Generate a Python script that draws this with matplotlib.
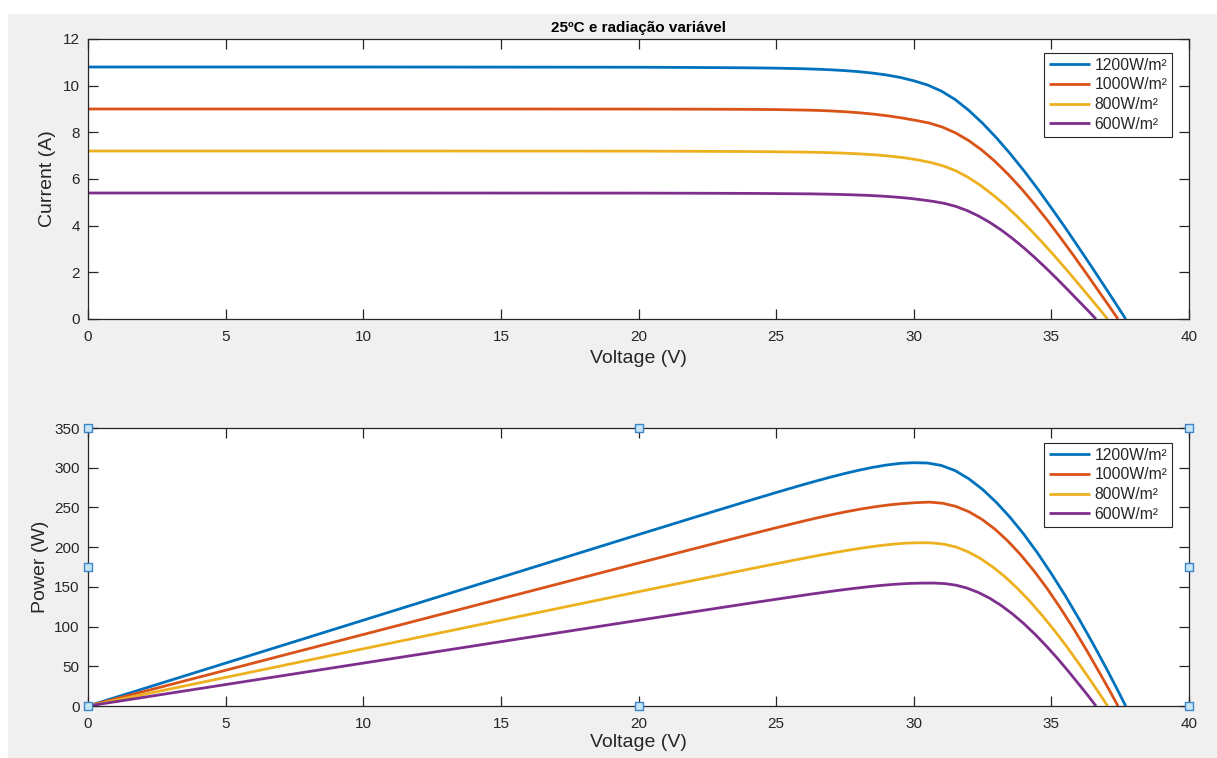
import numpy as np
import matplotlib
matplotlib.use("Agg")
import matplotlib.pyplot as plt
from matplotlib.patches import Rectangle

plt.rcParams['font.family'] = ['Liberation Sans', 'DejaVu Sans']

title = "25ºC e radiação variável"
labels = ["1200W/m²", "1000W/m²", "800W/m²", "600W/m²"]
colors = ["#0072BD", "#D95319", "#EDB120", "#7E2F8E"]

# I-V curves (voltage in V, current in A)
v_1200 = [0, 5, 10, 15, 20, 22, 24, 25, 26, 26.5, 27, 27.5, 28, 28.5, 29, 29.5, 30, 30.5, 31,
          31.5, 32, 32.5, 33, 33.5, 34, 34.5, 35, 35.5, 36, 36.5, 37, 37.35, 37.70]
i_1200 = [10.80, 10.80, 10.80, 10.795, 10.79, 10.78, 10.765, 10.75, 10.725, 10.705, 10.68,
          10.645, 10.60, 10.54, 10.46, 10.355, 10.21, 10.03, 9.77, 9.41, 8.94, 8.39, 7.77,
          7.09, 6.36, 5.58, 4.76, 3.92, 3.05, 2.17, 1.275, 0.64, 0.0]

v_1000 = [0, 5, 10, 15, 20, 22, 24, 25, 26.09, 26.59, 27.09, 27.59, 28.09, 28.60, 29.10, 29.60,
          30.10, 30.575, 31.051, 31.526, 32.001, 32.477, 32.952, 33.427, 33.902, 34.378,
          34.854, 35.328, 35.804, 36.279, 36.754, 37.087, 37.42]
i_1000 = [9.00, 9.00, 9.00, 9.00, 8.997, 8.993, 8.985, 8.975, 8.953, 8.936, 8.911, 8.876,
          8.831, 8.772, 8.700, 8.610, 8.507, 8.395, 8.221, 7.972, 7.644, 7.237, 6.755,
          6.205, 5.597, 4.935, 4.232, 3.491, 2.724, 1.936, 1.132, 0.571, 0.0]

v_800 = [0, 5, 10, 15, 20, 22, 24, 25, 26.17, 26.68, 27.18, 27.68, 28.19, 28.69, 29.19, 29.70,
         30.20, 30.644, 31.088, 31.532, 31.977, 32.421, 32.865, 33.309, 33.753, 34.197,
         34.642, 35.086, 35.530, 35.974, 36.418, 36.729, 37.04]
i_800 = [7.20, 7.20, 7.20, 7.197, 7.194, 7.187, 7.177, 7.167, 7.150, 7.137, 7.120, 7.097,
         7.067, 7.027, 6.973, 6.903, 6.807, 6.70, 6.555, 6.35, 6.07, 5.73, 5.33, 4.89, 4.40,
         3.88, 3.32, 2.74, 2.14, 1.52, 0.89, 0.45, 0.0]

v_600 = [0, 5, 10, 15, 20, 22, 24, 25, 26.26, 26.77, 27.27, 27.78, 28.28, 28.79, 29.29, 29.80,
         30.30, 30.710, 31.121, 31.531, 31.942, 32.352, 32.762, 33.173, 33.583, 33.994,
         34.404, 34.814, 35.225, 35.635, 36.046, 36.333, 36.62]
i_600 = [5.40, 5.40, 5.40, 5.398, 5.395, 5.390, 5.383, 5.375, 5.3625, 5.3525, 5.340, 5.3225,
         5.300, 5.270, 5.230, 5.1775, 5.106, 5.040, 4.953, 4.825, 4.646, 4.416, 4.140, 3.818,
         3.455, 3.056, 2.627, 2.172, 1.697, 1.206, 0.705, 0.358, 0.0]

voltages = [v_1200, v_1000, v_800, v_600]
currents = [i_1200, i_1000, i_800, i_600]

x_ticks = [0, 5, 10, 15, 20, 25, 30, 35, 40]
i_ticks = [0, 2, 4, 6, 8, 10, 12]
p_ticks = [0, 50, 100, 150, 200, 250, 300, 350]

W, H = 1217, 758
fig = plt.figure(figsize=(W / 100, H / 100), dpi=100, facecolor="white")
fig.patches.append(Rectangle((8 / W, 0), 1 - 8 / W, 1 - 14 / H, transform=fig.transFigure,
                             facecolor="#f0f0f0", edgecolor="none", zorder=-10))

axc = "#262626"

def style(ax):
    ax.set_facecolor("white")
    for s in ax.spines.values():
        s.set_color(axc)
        s.set_linewidth(0.9)
    ax.tick_params(direction="in", length=7, width=0.9, color=axc, labelcolor=axc,
                   labelsize=11, top=True, right=True)
    ax.tick_params(axis="x", pad=8)
    ax.tick_params(axis="y", pad=6)
    ax.set_xlim(0, 40)
    ax.set_xticks(x_ticks)

ax1 = fig.add_axes([88 / W, 1 - 319 / H, 1101 / W, 280 / H])
ax2 = fig.add_axes([88 / W, 1 - 706 / H, 1101 / W, 278 / H])

for v, i, c, lab in zip(voltages, currents, colors, labels):
    ax1.plot(v, i, color=c, lw=2.0, label=lab, solid_capstyle="butt", solid_joinstyle="round")
    p = np.array(v) * np.array(i)
    ax2.plot(v, p, color=c, lw=2.0, label=lab, solid_capstyle="butt", solid_joinstyle="round")

style(ax1)
style(ax2)
ax1.set_ylim(0, 12)
ax1.set_yticks(i_ticks)
ax2.set_ylim(0, 350)
ax2.set_yticks(p_ticks)

ax1.set_title(title, fontsize=11, fontweight="bold", color="black", pad=5)
ax1.set_xlabel("Voltage (V)", fontsize=14, color=axc, labelpad=4)
ax1.set_ylabel("Current (A)", fontsize=14, color=axc, labelpad=5)
ax2.set_xlabel("Voltage (V)", fontsize=14, color=axc, labelpad=2)
ax2.set_ylabel("Power (W)", fontsize=14, color=axc, labelpad=4)

for ax, top in ((ax1, 0.95), (ax2, 0.946)):
    leg = ax.legend(loc="upper right", bbox_to_anchor=(0.9846, top), fontsize=11.3,
                    frameon=True, fancybox=False, edgecolor=axc, framealpha=1,
                    handlelength=2.6, handletextpad=0.3, borderpad=0.3, labelspacing=0.3,
                    borderaxespad=0)
    leg.get_frame().set_linewidth(0.8)
    for t in leg.get_texts():
        t.set_color(axc)

# selection handles on the lower axes
hx = [0, 0.5, 1, 0, 1, 0, 0.5, 1]
hy = [1, 1, 1, 0.5, 0.5, 0, 0, 0]
ax2.scatter(hx, hy, transform=ax2.transAxes, marker="s", s=36, facecolor="#c5e6f7",
            edgecolor="#3d85c6", linewidths=1.0, clip_on=False, zorder=10)

fig.savefig("out.png", dpi=100, facecolor=fig.get_facecolor())
